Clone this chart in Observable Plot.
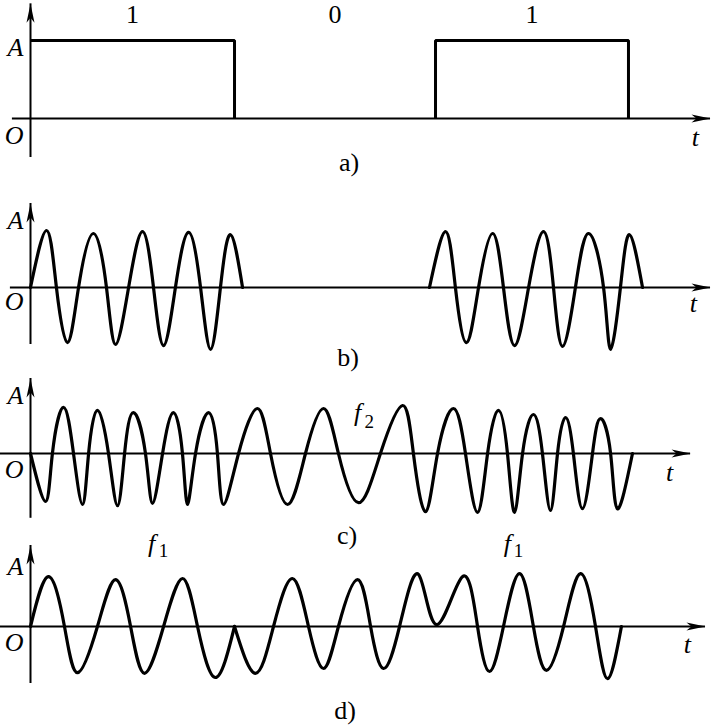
<!DOCTYPE html>
<html>
<head>
<meta charset="utf-8">
<script src="https://cdn.jsdelivr.net/npm/d3@7"></script>
<script src="https://cdn.jsdelivr.net/npm/@observablehq/plot@0.6"></script>
<style>
  body { margin: 0; background: #fff; }
  #chart { position: relative; width: 711px; height: 725px; background: #fff; }
</style>
</head>
<body>
<div id="chart"></div>
<script>
// ---------- data (time in bit periods, amplitude in units of A) ----------
const bits = [1, 0, 1];
const bitLabels = ["1", "0", "1"];
const bitEdges = [0, 1.015, 2.015, 2.975];

// b) ASK: two bursts of carrier
const bT1 = [0,0.080,0.129,0.184,0.239,0.313,0.378,0.423,0.488,0.557,0.612,0.662,0.721,0.786,0.846,0.896,0.945,0.995,1.055];
const bA1 = [0,0.95,0,-0.92,0,0.90,0,-0.95,0,0.93,0,-0.97,0,0.92,0,-1.03,0,0.88,0];
const bT2 = [1.985,2.065,2.114,2.169,2.229,2.299,2.353,2.408,2.478,2.552,2.602,2.647,2.711,2.776,2.851,2.886,2.935,2.980,3.045];
const bA2 = [0,0.93,0,-0.92,0,0.90,0,-0.97,0,0.93,0,-0.98,0,0.90,0,-1.03,0,0.88,0];

// c) FSK
const cT = [0,0.075,0.109,0.164,0.214,0.259,0.289,0.333,0.388,0.433,0.468,0.512,0.572,0.607,0.657,0.711,0.756,0.781,0.821,0.886,0.930,0.960,1.035,1.129,1.194,1.279,1.368,1.458,1.532,1.632,1.741,1.851,1.905,1.965,2.025,2.104,2.164,2.224,2.274,2.328,2.373,2.408,2.448,2.502,2.547,2.587,2.622,2.662,2.701,2.746,2.796,2.836,2.886,2.920,2.995];
const cA = [0,-0.80,0,0.77,0,-0.85,0,0.72,0,-0.87,0,0.68,0,-0.83,0,0.68,0,-0.85,0,0.68,0,-0.85,0,0.75,0,-0.85,0,0.75,0,-0.82,0,0.80,0,-0.97,0,0.75,0,-0.98,0,0.72,0,-0.98,0,0.65,0,-0.95,0,0.60,0,-0.92,0,0.58,0,-0.92,0];

// d) PSK (phase reversals at the bit edges)
const dT1 = [0,0.090,0.169,0.234,0.333,0.423,0.498,0.567,0.662,0.756,0.831,0.920,1.015];
const dA1 = [0,0.83,0,-0.77,0,0.78,0,-0.78,0,0.80,0,-0.85,0];
const dT2 = [1.015,1.119,1.209,1.303,1.383,1.458,1.532,1.627,1.692,1.756,1.836,1.930,2.020,2.149,2.224,2.284,2.353,2.433,2.502,2.567,2.652,2.736,2.811,2.871,2.940];
const dA2 = [0,-0.78,0,0.80,0,-0.70,0,0.78,0,-0.70,0,0.87,0.03,0.83,0,-0.75,0,0.88,0,-0.73,0,0.88,0,-0.87,0];

// ---------- helpers ----------
const ink = "#000";
const serif = "Liberation Serif, Times New Roman, serif";
const toRows = (T, A, seg) => T.map((t, i) => ({t, a: A[i], seg}));

const arrowHead = {
  draw(ctx) {
    ctx.moveTo(0, 0);
    ctx.lineTo(4, 19);
    ctx.lineTo(0, 14);
    ctx.lineTo(-4, 19);
    ctx.closePath();
  }
};

const txt = (size, italic) => ({
  fontFamily: serif, fontSize: size, fontStyle: italic ? "italic" : "normal",
  fill: ink, stroke: "none", lineAnchor: "middle"
});

function panel(yRange, ax, caption, marks) {
  return Plot.plot({
    width: 711, height: 725, margin: 0,
    x: {domain: [0, 1], range: [30, 231], axis: null},
    y: {domain: [0, 1], range: yRange, axis: null},
    style: {background: "transparent", overflow: "visible", position: "absolute", left: "0px", top: "0px"},
    marks: [
      Plot.ruleY([0], {x1: ax.x1, x2: ax.x2, stroke: ink, strokeWidth: 2}),
      Plot.ruleX([0], {y1: ax.y1, y2: ax.y2, stroke: ink, strokeWidth: 2}),
      Plot.dot([0], {x: ax.x2, y: 0, symbol: arrowHead, rotate: 90, fill: ink, stroke: "none"}),
      Plot.dot([0], {x: 0, y: ax.y2, symbol: arrowHead, fill: ink, stroke: "none"}),
      ...marks,
      Plot.text(["A"], {x: 0, y: 1, text: d => d, textAnchor: "end", dx: -7, dy: ax.aDy, ...txt(26, true)}),
      Plot.text(["O"], {x: 0, y: 0, text: d => d, textAnchor: "end", dx: -7, dy: ax.oDy, ...txt(26, true)}),
      Plot.text(["t"], {x: ax.x2, y: 0, text: d => d, textAnchor: "middle", dx: ax.tDx, dy: ax.tDy, ...txt(26, true)}),
      Plot.text([caption], {frameAnchor: "top", text: d => d, dx: ax.capDx, dy: ax.capDy, textAnchor: "middle", ...txt(26, false)})
    ]
  });
}

// ---------- a) binary sequence ----------
const pulseRows = bits.flatMap((b, i) => {
  if (!b) return [];
  const rows = [];
  if (bitEdges[i] !== 0) rows.push({t: bitEdges[i], a: 0, seg: i});
  rows.push({t: bitEdges[i], a: 1, seg: i}, {t: bitEdges[i + 1], a: 1, seg: i}, {t: bitEdges[i + 1], a: 0, seg: i});
  return rows;
});
const bitRows = bits.map((b, i) => ({t: (bitEdges[i] + bitEdges[i + 1]) / 2, label: bitLabels[i]}));

const chart = document.getElementById("chart");

chart.append(panel([118, 40],
  {x1: -0.09, x2: 3.383, y1: -0.5, y2: 1.47, aDy: 7, oDy: 17, tDx: -15, tDy: 19, capDx: -7, capDy: 162},
  "a)",
  [
    Plot.line(pulseRows, {x: "t", y: "a", z: "seg", stroke: ink, strokeWidth: 3, strokeLinejoin: "miter", strokeLinecap: "butt"}),
    Plot.text(bitRows, {x: "t", y: 1, text: "label", dy: -25.5, textAnchor: "middle", ...txt(26, false)})
  ]));

// ---------- b) ASK ----------
chart.append(panel([287, 227],
  {x1: -0.1, x2: 3.383, y1: -0.95, y2: 1.4, aDy: -7, oDy: 14, tDx: -17, tDy: 16, capDx: -8, capDy: 357},
  "b)",
  [
    Plot.line([...toRows(bT1, bA1, 0), ...toRows(bT2, bA2, 1)],
      {x: "t", y: "a", z: "seg", curve: "natural", stroke: ink, strokeWidth: 3.2, strokeLinejoin: "round", strokeLinecap: "round"})
  ]));

// ---------- c) FSK ----------
chart.append(panel([453, 393],
  {x1: -0.15, x2: 3.284, y1: -1.08, y2: 1.25, aDy: 2, oDy: 16, tDx: -21, tDy: 19, capDx: -9, capDy: 535},
  "c)",
  [
    Plot.line(toRows(cT, cA, 0),
      {x: "t", y: "a", curve: "natural", stroke: ink, strokeWidth: 3.2, strokeLinejoin: "round", strokeLinecap: "round"}),
    Plot.text(["f"], {x: 1.627, y: 0.68, text: d => d, textAnchor: "middle", ...txt(26, true)}),
    Plot.text(["2"], {x: 1.685, y: 0.52, text: d => d, textAnchor: "middle", ...txt(19, false)}),
    Plot.text(["f", "f"], {x: [0.602, 2.373], y: -1.5, text: d => d, textAnchor: "middle", ...txt(26, true)}),
    Plot.text(["1", "1"], {x: [0.662, 2.428], y: -1.62, text: d => d, textAnchor: "middle", ...txt(19, false)})
  ]));

// ---------- d) PSK ----------
chart.append(panel([626, 566],
  {x1: -0.15, x2: 3.358, y1: -0.95, y2: 1.35, aDy: 0, oDy: 16, tDx: -18, tDy: 18, capDx: -11, capDy: 710},
  "d)",
  [
    Plot.line([...toRows(dT1, dA1, 0), ...toRows(dT2, dA2, 1)],
      {x: "t", y: "a", z: "seg", curve: "natural", stroke: ink, strokeWidth: 3.2, strokeLinejoin: "round", strokeLinecap: "round"})
  ]));
</script>
</body>
</html>
